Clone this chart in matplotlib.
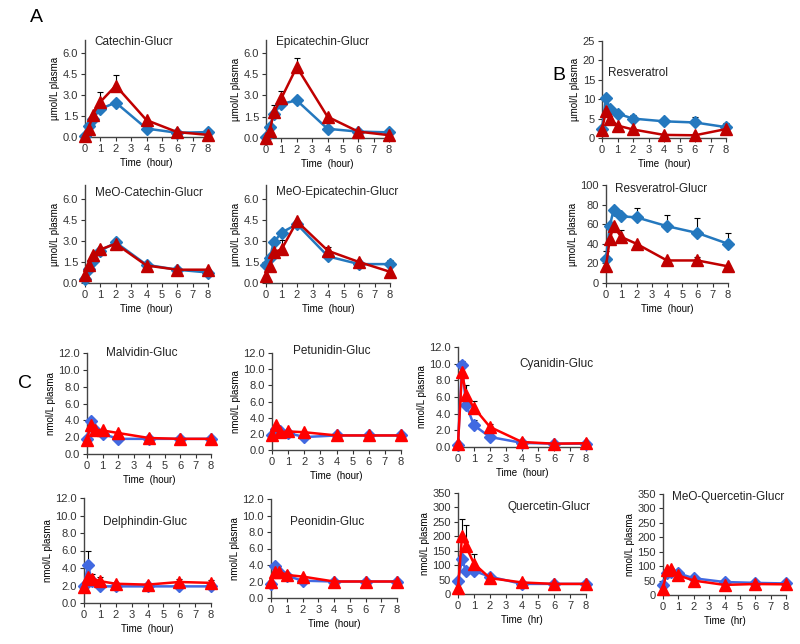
import matplotlib
matplotlib.use("Agg")
import matplotlib.pyplot as plt
import numpy as np

plt.rcParams['font.family'] = ['Liberation Sans', 'DejaVu Sans']

hours = [0, 0.25, 0.5, 1, 2, 4, 6, 8]

# Panel A (umol/L)
catechin_blue = [0.1, 0.8, 1.3, 2.0, 2.45, 0.6, 0.3, 0.35]
catechin_red = [0.05, 0.6, 1.6, 2.5, 3.65, 1.2, 0.35, 0.15]
catechin_blue_err = [0, 0, 0, 0, 0.2, 0, 0, 0]
catechin_red_err = [0, 0, 0, 0.7, 0.75, 0, 0, 0]

epicat_blue = [0.1, 0.8, 1.7, 2.4, 2.65, 0.65, 0.45, 0.4]
epicat_red = [0.0, 0.5, 1.8, 2.8, 5.0, 1.5, 0.45, 0.2]
epicat_blue_err = [0, 0, 0, 0, 0.2, 0, 0, 0]
epicat_red_err = [0, 0, 0.5, 0.5, 0.6, 0, 0, 0]

meocat_blue = [0.3, 1.0, 1.6, 2.3, 2.9, 1.3, 0.95, 0.75]
meocat_red = [0.6, 1.3, 2.0, 2.4, 2.8, 1.25, 0.95, 0.95]

meoepi_blue = [1.3, 1.8, 2.9, 3.6, 4.2, 1.9, 1.35, 1.35]
meoepi_red = [0.5, 1.2, 2.2, 2.4, 4.4, 2.3, 1.5, 0.8]
meoepi_blue_err = [0, 0, 0, 0, 0, 0, 0, 0.3]
meoepi_red_err = [0, 0, 0, 0.7, 0, 0.3, 0, 0]

# Panel B (umol/L)
resv_blue = [2.3, 10.3, 7.5, 6.3, 5.0, 4.3, 4.0, 2.8]
resv_red = [2.0, 7.0, 5.0, 3.2, 2.2, 0.8, 0.7, 2.3]
resv_blue_err = [0, 0, 0, 0, 1.0, 0.8, 1.5, 1.0]

resvg_blue = [25, 58, 75, 68, 67, 58, 51, 40]
resvg_red = [17, 45, 58, 47, 40, 23, 23, 17]
resvg_blue_err = [8, 0, 0, 0, 10, 11, 15, 11]
resvg_red_err = [0, 0, 0, 7, 0, 0, 4, 0]

# Panel C (nmol/L)
malv_blue = [1.8, 3.9, 2.9, 2.4, 1.8, 1.8, 1.8, 1.8]
malv_red = [1.7, 3.5, 2.9, 2.8, 2.5, 1.9, 1.8, 1.8]

petu_blue = [1.8, 2.6, 2.4, 2.1, 1.6, 1.8, 1.8, 1.8]
petu_red = [1.8, 3.1, 2.2, 2.3, 2.2, 1.8, 1.8, 1.8]

cyan_blue = [0.3, 9.8, 5.1, 2.6, 1.2, 0.5, 0.4, 0.4]
cyan_red = [0.4, 9.0, 6.3, 4.7, 2.4, 0.6, 0.4, 0.45]
cyan_blue_err = [0, 0.5, 0, 0.6, 0, 0, 0, 0]
cyan_red_err = [0, 0, 1.1, 0.8, 0.4, 0, 0, 0]

delph_blue = [2.0, 4.3, 2.5, 1.9, 1.9, 1.9, 1.9, 1.9]
delph_red = [1.8, 3.0, 2.8, 2.5, 2.2, 2.1, 2.4, 2.3]
delph_blue_err = [0, 1.6, 0, 0, 0, 0, 0, 0]
delph_red_err = [0, 0, 0.5, 0.5, 0, 0, 0.4, 0.3]

peon_blue = [1.7, 3.9, 3.2, 2.7, 2.1, 2.0, 2.0, 2.0]
peon_red = [1.9, 3.2, 3.2, 2.8, 2.6, 2.0, 2.0, 2.0]

querc_blue = [45, 120, 80, 80, 60, 35, 35, 35]
querc_red = [20, 200, 165, 105, 55, 40, 35, 35]
querc_blue_err = [0, 30, 0, 0, 10, 0, 0, 0]
querc_red_err = [0, 60, 75, 35, 0, 0, 0, 0]

meoq_blue = [35, 75, 80, 75, 58, 45, 42, 40]
meoq_red = [22, 85, 90, 68, 50, 35, 38, 37]

zeros = [0] * 8

BLUE_AB, RED_AB = '#2478BE', '#C00000'
BLUE_C, RED_C = '#4169E1', '#FF0000'

W, H = 800, 644
fig = plt.figure(figsize=(8, 6.44), dpi=100)


def make_ax(left, right, bottom, top):
    return fig.add_axes([left / W, 1 - bottom / H, (right - left) / W, (bottom - top) / H])


def panel(px, title, tpos, blue, red, blue_err, red_err, ymax, yticks, fmt,
          ylabel, xlabel, cb, cr):
    ax = make_ax(*px)
    for vals, err, c, m, ms in [(blue, blue_err, cb, 'D', 6), (red, red_err, cr, '^', 8)]:
        err = np.array(err, dtype=float)
        ax.errorbar(hours, vals, yerr=[np.zeros_like(err), err], fmt='none',
                    ecolor='black', elinewidth=0.8, capsize=2.5, capthick=0.8,
                    clip_on=False, zorder=2)
        ax.plot(hours, vals, color=c, lw=1.8, marker=m, ms=ms, mec=c,
                clip_on=False, zorder=3)
    ax.set_xlim(0, 8)
    ax.set_ylim(0, ymax)
    ax.set_xticks(range(9))
    ax.set_yticks(yticks)
    ax.set_yticklabels([fmt.format(v) for v in yticks])
    for s in ['top', 'right']:
        ax.spines[s].set_visible(False)
    for s in ['left', 'bottom']:
        ax.spines[s].set_color('#444444')
        ax.spines[s].set_linewidth(1.0)
    ax.tick_params(labelsize=8, length=3, width=0.8, pad=2, colors='#333333')
    ax.set_ylabel(ylabel, fontsize=7, labelpad=2)
    ax.set_xlabel(xlabel, fontsize=7, labelpad=3)
    ax.text(tpos[0], tpos[1], title, transform=ax.transAxes, fontsize=8.5,
            va='center', ha='left', color='#222222')
    return ax


yA = [0, 1.5, 3.0, 4.5, 6.0]
yC = [0, 2, 4, 6, 8, 10, 12]
yQ = list(range(0, 351, 50))
um = 'µmol/L plasma'
nm = 'nmol/L plasma'
th = 'Time  (hour)'
tr = 'Time  (hr)'

panel((85, 208, 137, 40), 'Catechin-Glucr', (0.08, 0.98), catechin_blue, catechin_red,
      catechin_blue_err, catechin_red_err, 6.9, yA, '{:.1f}', um, th, BLUE_AB, RED_AB)
panel((266, 389, 138, 40), 'Epicatechin-Glucr', (0.08, 0.98), epicat_blue, epicat_red,
      epicat_blue_err, epicat_red_err, 6.9, yA, '{:.1f}', um, th, BLUE_AB, RED_AB)
panel((85, 208, 283, 185), 'MeO-Catechin-Glucr', (0.08, 0.92), meocat_blue, meocat_red,
      zeros, zeros, 7.0, yA, '{:.1f}', um, th, BLUE_AB, RED_AB)
panel((266, 390, 283, 185), 'MeO-Epicatechin-Glucr', (0.08, 0.93), meoepi_blue, meoepi_red,
      meoepi_blue_err, meoepi_red_err, 7.0, yA, '{:.1f}', um, th, BLUE_AB, RED_AB)

panel((602, 726, 138, 41), 'Resveratrol', (0.05, 0.67), resv_blue, resv_red,
      resv_blue_err, zeros, 25, [0, 5, 10, 15, 20, 25], '{:.0f}', um, th, BLUE_AB, RED_AB)
panel((606, 728, 283, 185), 'Resveratrol-Glucr', (0.07, 0.96), resvg_blue, resvg_red,
      resvg_blue_err, resvg_red_err, 100, [0, 20, 40, 60, 80, 100], '{:.0f}', um, th, BLUE_AB, RED_AB)

panel((87, 211, 454, 353), 'Malvidin-Gluc', (0.15, 1.0), malv_blue, malv_red,
      zeros, zeros, 12, yC, '{:.1f}', nm, th, BLUE_C, RED_C)
panel((272, 401, 450, 353), 'Petunidin-Gluc', (0.16, 1.02), petu_blue, petu_red,
      zeros, zeros, 12, yC, '{:.1f}', nm, th, BLUE_C, RED_C)
panel((458, 586, 447, 347), 'Cyanidin-Gluc', (0.48, 0.83), cyan_blue, cyan_red,
      cyan_blue_err, cyan_red_err, 12, yC, '{:.1f}', nm, th, BLUE_C, RED_C)
panel((84, 211, 603, 498), 'Delphindin-Gluc', (0.15, 0.77), delph_blue, delph_red,
      delph_blue_err, delph_red_err, 12, yC, '{:.1f}', nm, th, BLUE_C, RED_C)
panel((271, 397, 598, 499), 'Peonidin-Gluc', (0.15, 0.77), peon_blue, peon_red,
      zeros, zeros, 12, yC, '{:.1f}', nm, th, BLUE_C, RED_C)
panel((458, 586, 594, 493), 'Quercetin-Glucr', (0.39, 0.86), querc_blue, querc_red,
      querc_blue_err, querc_red_err, 350, yQ, '{:.0f}', nm, tr, BLUE_C, RED_C)
panel((663, 786, 595, 494), 'MeO-Quercetin-Glucr', (0.07, 0.97), meoq_blue, meoq_red,
      zeros, zeros, 350, yQ, '{:.0f}', nm, tr, BLUE_C, RED_C)

fig.text(30 / W, 1 - 17 / H, 'A', fontsize=14, va='center', ha='left')
fig.text(552 / W, 1 - 75 / H, 'B', fontsize=14, va='center', ha='left')
fig.text(18 / W, 1 - 384 / H, 'C', fontsize=14, va='center', ha='left')

fig.savefig('out.png', dpi=100)
